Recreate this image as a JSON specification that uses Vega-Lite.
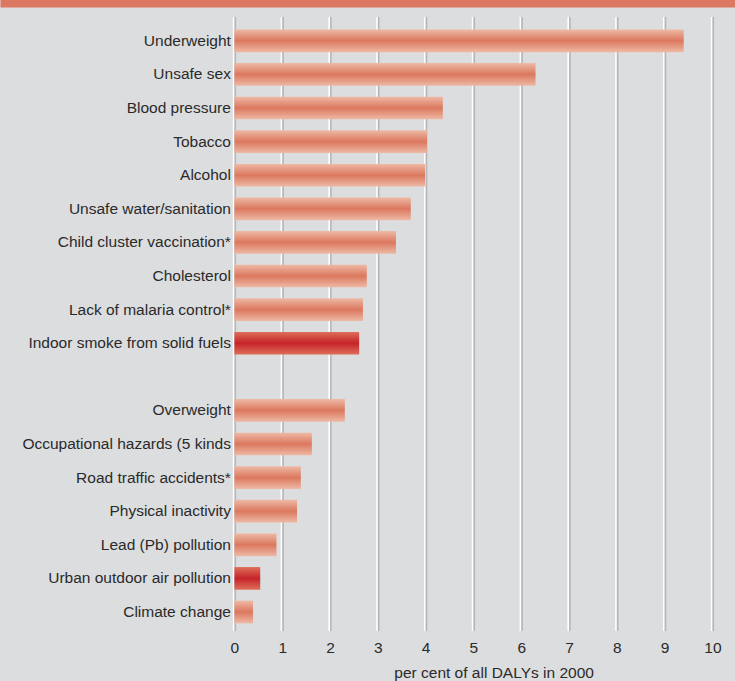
{
  "$schema": "https://vega.github.io/schema/vega-lite/v6.json",
  "width": 735,
  "height": 614,
  "autosize": {"type": "none"},
  "padding": {"left": 0, "right": 0, "top": 17, "bottom": 50},
  "background": "#DCDDDF",
  "config": {"view": {"stroke": null}, "font": "Liberation Sans"},
  "datasets": {
    "risks": [
      {"risk": "Underweight", "value": 9.4, "group": "other"},
      {"risk": "Unsafe sex", "value": 6.3, "group": "other"},
      {"risk": "Blood pressure", "value": 4.36, "group": "other"},
      {"risk": "Tobacco", "value": 4.03, "group": "other"},
      {"risk": "Alcohol", "value": 3.99, "group": "other"},
      {"risk": "Unsafe water/sanitation", "value": 3.69, "group": "other"},
      {"risk": "Child cluster vaccination*", "value": 3.38, "group": "other"},
      {"risk": "Cholesterol", "value": 2.77, "group": "other"},
      {"risk": "Lack of malaria control*", "value": 2.69, "group": "other"},
      {"risk": "Indoor smoke from solid fuels", "value": 2.61, "group": "environment"},
      {"risk": "Overweight", "value": 2.31, "group": "other"},
      {"risk": "Occupational hazards (5 kinds", "value": 1.62, "group": "other"},
      {"risk": "Road traffic accidents*", "value": 1.39, "group": "other"},
      {"risk": "Physical inactivity", "value": 1.31, "group": "other"},
      {"risk": "Lead (Pb) pollution", "value": 0.88, "group": "other"},
      {"risk": "Urban outdoor air pollution", "value": 0.54, "group": "environment"},
      {"risk": "Climate change", "value": 0.39, "group": "other"}
    ],
    "ticks": [
      {"t": 0}, {"t": 1}, {"t": 2}, {"t": 3}, {"t": 4}, {"t": 5},
      {"t": 6}, {"t": 7}, {"t": 8}, {"t": 9}, {"t": 10}
    ]
  },
  "resolve": {"axis": {"x": "independent"}},
  "layer": [
    {
      "data": {"name": "ticks"},
      "mark": {"type": "rule", "color": "#FFFFFF", "strokeWidth": 1.6, "xOffset": -0.8},
      "encoding": {
        "x": {
          "field": "t",
          "type": "quantitative",
          "scale": {"domain": [-4.904, 10.473], "nice": false, "zero": false},
          "axis": {
            "orient": "bottom",
            "values": [0, 1, 2, 3, 4, 5, 6, 7, 8, 9, 10],
            "domain": false,
            "ticks": false,
            "grid": false,
            "labelFontSize": 15.5,
            "labelColor": "#2a2a2a",
            "labelPadding": 9,
            "title": "per cent of all DALYs in 2000",
            "titleFontSize": 15.5,
            "titleFontWeight": "normal",
            "titleColor": "#2a2a2a",
            "titleX": 493.6,
            "titleY": 46,
            "titleBaseline": "alphabetic"
          }
        }
      }
    },
    {
      "data": {"name": "ticks"},
      "mark": {"type": "rule", "color": "#B5B6B9", "strokeWidth": 1.6, "xOffset": 0.9},
      "encoding": {
        "x": {
          "field": "t",
          "type": "quantitative",
          "axis": {
            "orient": "top",
            "domain": true,
            "domainColor": "#DC7862",
            "domainWidth": 8,
            "offset": 14,
            "ticks": false,
            "labels": false,
            "grid": false,
            "title": null
          }
        }
      }
    },
    {
      "data": {"name": "risks"},
      "transform": [{"filter": "datum.group == 'other'"}],
      "mark": {
        "type": "bar",
        "color": {
          "gradient": "linear",
          "x1": 0, "y1": 0, "x2": 0, "y2": 1,
          "stops": [
            {"offset": 0, "color": "#EEB9A5"},
            {"offset": 0.5, "color": "#DB785E"},
            {"offset": 1, "color": "#EEB9A5"}
          ]
        }
      },
      "encoding": {
        "y": {
          "field": "risk",
          "type": "nominal",
          "sort": null,
          "scale": {
            "type": "band",
            "domain": ["Underweight", "Unsafe sex", "Blood pressure", "Tobacco", "Alcohol", "Unsafe water/sanitation", "Child cluster vaccination*", "Cholesterol", "Lack of malaria control*", "Indoor smoke from solid fuels", " ", "Overweight", "Occupational hazards (5 kinds", "Road traffic accidents*", "Physical inactivity", "Lead (Pb) pollution", "Urban outdoor air pollution", "Climate change"],
            "paddingInner": 0.325,
            "paddingOuter": 0.3,
            "align": 0.62,
            "round": false
          },
          "axis": {
            "orient": "left",
            "offset": -234.4,
            "domain": false,
            "ticks": false,
            "grid": false,
            "labelFontSize": 15.5,
            "labelColor": "#2a2a2a",
            "labelPadding": 4,
            "labelLimit": 400,
            "title": null
          }
        },
        "x": {"field": "value", "type": "quantitative", "axis": null},
        "x2": {"datum": 0}
      }
    },
    {
      "data": {"name": "risks"},
      "transform": [{"filter": "datum.group == 'environment'"}],
      "mark": {
        "type": "bar",
        "color": {
          "gradient": "linear",
          "x1": 0, "y1": 0, "x2": 0, "y2": 1,
          "stops": [
            {"offset": 0, "color": "#DE6E58"},
            {"offset": 0.5, "color": "#C6242A"},
            {"offset": 1, "color": "#DE6E58"}
          ]
        }
      },
      "encoding": {
        "y": {"field": "risk", "type": "nominal", "sort": null},
        "x": {"field": "value", "type": "quantitative", "axis": null},
        "x2": {"datum": 0}
      }
    }
  ]
}
